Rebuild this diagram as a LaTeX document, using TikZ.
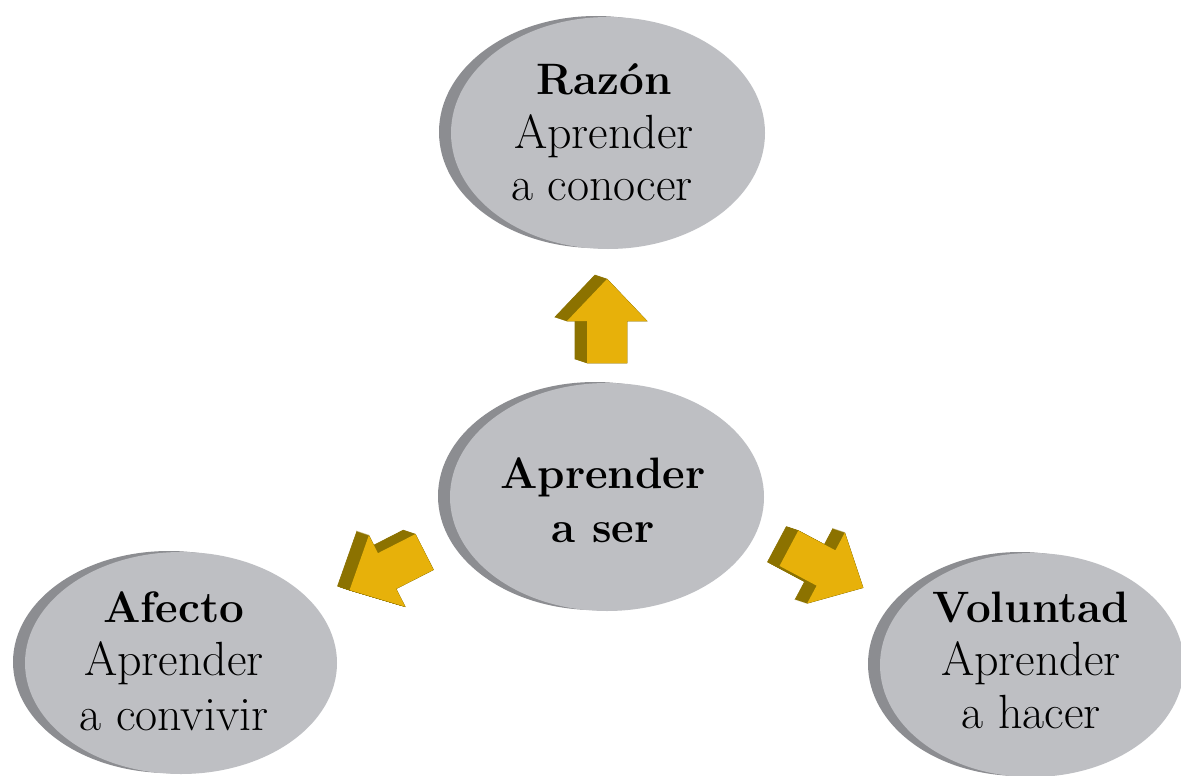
\documentclass[tikz,border=0pt]{standalone}
\usepackage{fontspec}
\usetikzlibrary{shapes.geometric}
\definecolor{discface}{RGB}{190,191,195}
\definecolor{discrim}{RGB}{140,141,145}
\definecolor{arrowfront}{RGB}{231,177,10}
\definecolor{arrowside}{RGB}{140,114,0}
\tikzset{
  disc/.style={ellipse, inner sep=0pt, fill=discface},
  discback/.style={ellipse, inner sep=0pt, fill=discrim},
  boldline/.style={anchor=base, inner sep=0pt, font=\bfseries\fontsize{44}{52}\selectfont},
  plainline/.style={anchor=base, inner sep=0pt, font=\fontsize{48}{52}\selectfont},
  arrowface/.pic={\path[pic actions] (42,0) -- (0,40) -- (0,20) -- (-42,20) -- (-42,-20) -- (0,-20) -- (0,-40) -- cycle;}
}
\newcommand\solidarrow[3]{%
  % #1,#2: base of the head, #3: direction angle; extruded towards the upper left
  \foreach \t in {0,1,...,12}
    \pic[fill=arrowside, draw=arrowside, line width=0.6pt, rotate=#3] at ({#1-12+\t},{#2-4+\t/3}) {arrowface};
  \pic[fill=arrowfront, rotate=#3] at (#1,#2) {arrowface};
}
\begin{document}
\begin{tikzpicture}[x=1pt, y=-1pt]
\useasboundingbox (0,0) rectangle (1181,776);
\clip (0,0) rectangle (1181,776);
\fill[white] (0,0) rectangle (1181,776);

% discs: dark rim behind, light face in front
\node[discback, minimum width=314pt, minimum height=232pt] (razon-rim) at (596,132) {};
\node[disc, minimum width=314pt, minimum height=232pt] (razon) at (608,133) {};
\node[discback, minimum width=314pt, minimum height=228pt] (ser-rim) at (595,496) {};
\node[disc, minimum width=314pt, minimum height=228pt] (ser) at (607,497) {};
\node[discback, minimum width=312pt, minimum height=222pt] (afecto-rim) at (169,662) {};
\node[disc, minimum width=312pt, minimum height=222pt] (afecto) at (181,663) {};
\node[discback, minimum width=304pt, minimum height=224pt] (voluntad-rim) at (1020,664) {};
\node[disc, minimum width=304pt, minimum height=224pt] (voluntad) at (1032,665) {};

% labels
\node[boldline]  (razon-1) at (604,95)  {Razón};
\node[plainline] (razon-2) at (604,148) {Aprender};
\node[plainline] (razon-3) at (602,200) {a conocer};

\node[boldline] (ser-1) at (603,488) {Aprender};
\node[boldline] (ser-2) at (603,542) {a ser};

\node[boldline]  (afecto-1) at (174,622) {Afecto};
\node[plainline] (afecto-2) at (174,675) {Aprender};
\node[plainline] (afecto-3) at (174,730) {a convivir};

\node[boldline]  (voluntad-1) at (1031,622) {Voluntad};
\node[plainline] (voluntad-2) at (1031,675) {Aprender};
\node[plainline] (voluntad-3) at (1031,728) {a hacer};

% block arrows
\solidarrow{607}{321}{90}
\solidarrow{387}{571}{207}
\solidarrow{826}{568}{-28}
\end{tikzpicture}
\end{document}
